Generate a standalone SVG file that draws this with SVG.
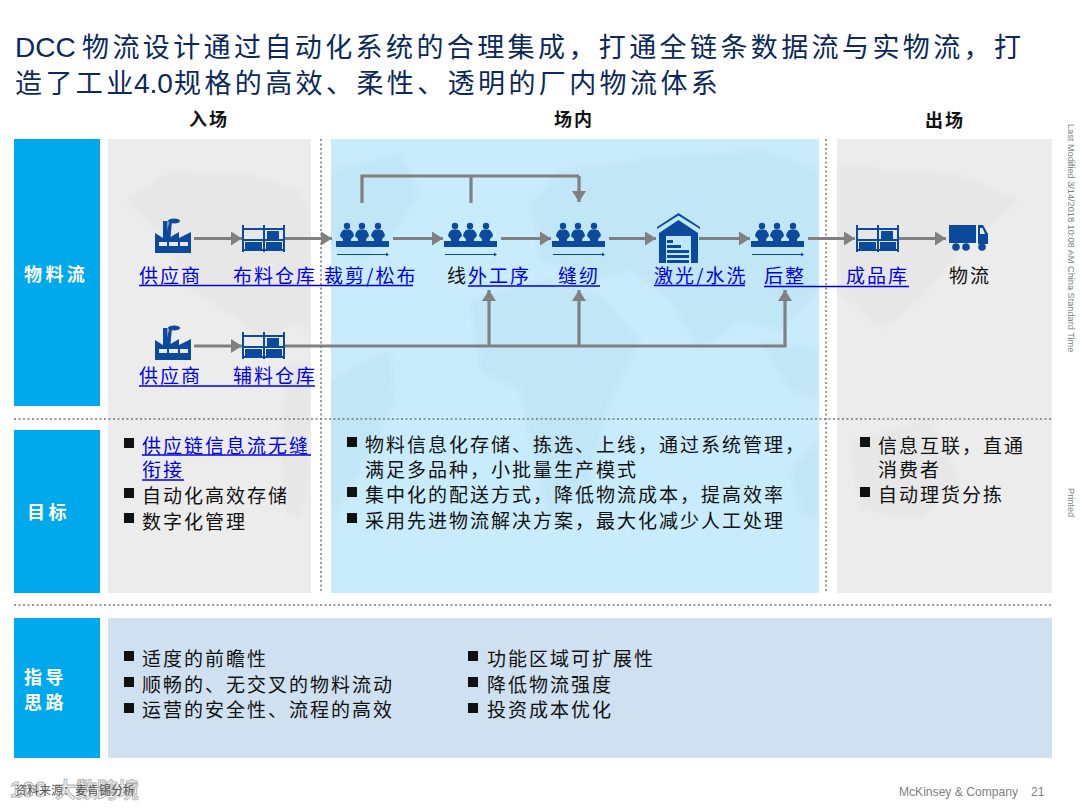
<svg xmlns="http://www.w3.org/2000/svg" width="1080" height="810" viewBox="0 0 1080 810">
<style>
text{font-family:"Liberation Sans","Noto Sans CJK SC",sans-serif}
.t{font-size:27px;fill:#0b2a5b;letter-spacing:3.4px;font-family:"Noto Sans CJK SC",sans-serif}
.tl{font-size:28px;fill:#0b2a5b}
.h{font-size:18px;font-weight:700;fill:#111;letter-spacing:2px;font-family:"Noto Sans CJK SC",sans-serif}
.lab{font-size:18px;font-weight:700;fill:#fff;letter-spacing:3.400px;font-family:"Noto Sans CJK SC",sans-serif}
.b{font-size:19px;fill:#111;letter-spacing:2px;font-family:"Noto Sans CJK SC",sans-serif}
.lk{fill:#0000e6}
.u{stroke:#0000e6;stroke-width:1.4;fill:none}
.c{stroke:#808080;stroke-width:3.2;fill:none}
.ca{stroke:#808080;stroke-width:3.2;fill:none;marker-end:url(#ah)}
.i{fill:#0b4a9c}
.side{font-size:9.2px;fill:#808080}
.blue{fill:#00a9ec}
.sep{stroke:#777;stroke-width:1.5;stroke-dasharray:2 2.5;fill:none}
.mg{fill:#e7e7e7}
.mb{fill:#c1e6f6}
.wm{font-weight:700;fill:#eee;stroke:#b0b0b0;stroke-width:.8}
</style>
<defs>
<filter id="soft" x="-5%" y="-5%" width="110%" height="110%"><feGaussianBlur stdDeviation="2.500"/></filter>
<marker id="ah" markerUnits="userSpaceOnUse" markerWidth="13" markerHeight="14" refX="11" refY="7" orient="auto"><path d="M0 0L11 7L0 14Z" fill="#808080"/></marker>
<rect id="bullet" x="0" y="0" width="10" height="10" fill="#111"/>
<g id="factory" class="i"><path d="M0 35V15L8 20V3H12.500V12L14 3H17L15.500 19L24 14V20L36 14V35ZM4 24V28H12V24ZM14 24V28H23V24ZM25 24V28H33V24Z" fill-rule="evenodd"/><ellipse cx="19" cy="3" rx="6" ry="2.500"/></g>
<g id="rack" class="i"><path d="M0 0H2V27H0ZM21 0H23V27H21ZM41 0H43V27H41ZM1 3H42V5H1ZM1 14H42V16H1ZM1 24H42V26H1Z"/><rect x="3" y="17" width="17" height="7"/><rect x="24" y="17" width="16" height="7"/><rect x="25" y="6" width="12" height="8"/></g>
<g id="workers" class="i"><rect x="0" y="18" width="53" height="6"/><path d="M1 31H50V29.500L53 31.500L50 33.500V32H1Z"/><g id="w1"><circle cx="11" cy="3" r="3.200"/><path d="M4 13Q5 7 9 6.500H13Q17 7 18 13L15 16V18H7V16Z"/></g><use href="#w1" x="15"/><use href="#w1" x="31"/></g>
<g id="house" class="i"><path d="M0 14L21.500 0L43 14V16L21.500 2.500L0 16Z"/><path d="M2 20L21.500 7L41 20V50H34V23H9V50H2Z"/><path d="M10 27H16V30H10ZM10 32H24V35H10ZM10 37H32V40H10ZM10 42H32V45H10ZM10 47H32V50H10Z"/></g>
<g id="truck" class="i"><rect x="0" y="0" width="27" height="18"/><path d="M29 0H34L39 9V19H29ZM31 3V9H36L33.500 3Z" fill-rule="evenodd"/><circle cx="7" cy="22" r="3.800"/><circle cx="17" cy="22" r="3.800"/><circle cx="33" cy="22" r="3.800"/></g>
<clipPath id="gl"><rect x="108" y="139" width="203" height="454"/></clipPath>
<clipPath id="bl"><rect x="331" y="139" width="488" height="454"/></clipPath>
<clipPath id="gr"><rect x="837" y="139" width="215" height="454"/></clipPath>
</defs>
<rect width="1080" height="810" fill="#fff"/>
<g id="title"><text class="tl" x="15" y="57">DCC</text><text class="t" x="82" y="57">物流设计通过自动化系统的合理集成，打通全链条数据流与实物流，打</text><text class="t" x="15" y="93">造了工业</text><text class="tl" x="134" y="93">4.0</text><text class="t" x="174" y="93">规格的高效、柔性、透明的厂内物流体系</text></g>
<g id="headers"><text class="h" x="189" y="126">入场</text><text class="h" x="554" y="126">场内</text><text class="h" x="925" y="127">出场</text></g>
<g id="panels"><rect x="108" y="139" width="203" height="454" fill="#ececec"/><rect x="331" y="139" width="488" height="454" fill="#c9ecfc"/><rect x="837" y="139" width="215" height="454" fill="#ececec"/><rect x="108" y="618" width="944" height="140" fill="#cfe0f0"/>
<rect class="blue" x="14" y="139" width="86" height="267"/><rect class="blue" x="14" y="430" width="86" height="163"/><rect class="blue" x="14" y="618" width="86" height="140"/></g>
<g id="map"><g clip-path="url(#gl)"><g filter="url(#soft)"><path class="mg" d="M125 200L170 172L250 175L300 190L311 210V330L290 325L265 345L240 320L190 290L160 235Z"/><path class="mg" d="M290 360L311 370V470L300 520L285 510L280 440Z"/></g></g>
<g clip-path="url(#bl)"><g filter="url(#soft)"><path class="mb" d="M331 170L400 155L420 190L390 240L360 260L331 250Z"/><path class="mb" d="M331 380L390 350L395 400L360 470L331 520Z"/><path class="mb" d="M530 205L560 170L640 160L760 150L819 170V290L780 330L740 320L700 350L670 300L630 270L590 280L540 260Z"/><path class="mb" d="M470 300L540 280L600 295L640 340L610 400L590 480L550 520L530 440L520 390L480 370Z"/><path class="mb" d="M760 340L819 350V400L790 390Z"/><path class="mb" d="M790 470L819 440V520L800 510Z"/></g></g>
<g clip-path="url(#gr)"><g filter="url(#soft)"><path class="mg" d="M837 165L960 175L1020 200L970 240L920 300L880 330L837 290Z"/><path class="mg" d="M850 440L930 420L960 480L920 520L860 510Z"/></g></g></g>
<g id="separators"><path class="sep" d="M321 139V593M826 139V593M14 419H1052M14 605H1052"/></g>
<g id="connectors">
<path class="ca" d="M194 238.500H242"/><path class="ca" d="M285 238.500H332"/><path class="ca" d="M393 238.500H443"/><path class="ca" d="M501 238.500H551"/><path class="ca" d="M609 238.500H656"/><path class="ca" d="M699 238.500H750"/><path class="ca" d="M808 238.500H855"/><path class="ca" d="M899 238.500H946"/>
<path class="c" d="M362 203V176H579"/><path class="c" d="M471 203V176"/><path class="ca" d="M579 176V202"/>
<path class="ca" d="M194 346H242"/><path class="ca" d="M285 346H785V290"/><path class="ca" d="M489 346V290"/><path class="ca" d="M579 346V290"/>
</g>
<g id="n-supplier1"><use href="#factory" x="155" y="218"/><text class="b lk" x="139" y="283">供应商</text></g>
<g id="n-fabric"><use href="#rack" x="242" y="225"/><text class="b lk" x="233" y="283">布料仓库</text></g>
<g id="n-cut"><use href="#workers" x="336" y="223"/><text class="b lk" x="324" y="283">裁剪/松布</text></g>
<g id="n-outsource"><use href="#workers" x="444" y="223"/><text class="b" x="447" y="283">线</text><text class="b lk" x="468" y="283">外工序</text></g>
<g id="n-sew"><use href="#workers" x="552" y="223"/><text class="b lk" x="558" y="283">缝纫</text></g>
<g id="n-wash"><use href="#house" x="657" y="213"/><text class="b lk" x="654" y="283">激光/水洗</text></g>
<g id="n-finish"><use href="#workers" x="751" y="223"/><text class="b lk" x="764" y="283">后整</text></g>
<g id="n-finished"><use href="#rack" x="856" y="225"/><text class="b lk" x="846" y="283">成品库</text></g>
<g id="n-logistics"><use href="#truck" x="949" y="225"/><text class="b" x="949" y="283">物流</text></g>
<g id="n-supplier2"><use href="#factory" x="155" y="325"/><text class="b lk" x="139" y="383">供应商</text></g>
<g id="n-trim"><use href="#rack" x="242" y="332"/><text class="b lk" x="233" y="383">辅料仓库</text></g>
<path class="u" d="M139 285.500H413M468 286H600M654 285.500H745M764 286.500H909M139 386H315"/>
<g id="labels"><text class="lab" x="24" y="281">物料流</text><text class="lab" x="27" y="519">目标</text><text class="lab" x="24" y="684">指导</text><text class="lab" x="24" y="709">思路</text></g>
<g id="goals1"><use href="#bullet" x="124" y="438"/><text class="b lk" x="142" y="453">供应链信息流无缝</text><path class="u" d="M142 455H311M142 480H184"/><text class="b lk" x="142" y="477">衔接</text><use href="#bullet" x="124" y="488"/><text class="b" x="142" y="503">自动化高效存储</text><use href="#bullet" x="124" y="513"/><text class="b" x="142" y="529">数字化管理</text></g>
<g id="goals2"><use href="#bullet" x="347" y="437"/><text class="b" x="365" y="452">物料信息化存储、拣选、上线，通过系统管理，</text><text class="b" x="365" y="477">满足多品种，小批量生产模式</text><use href="#bullet" x="347" y="487"/><text class="b" x="365" y="502">集中化的配送方式，降低物流成本，提高效率</text><use href="#bullet" x="347" y="513"/><text class="b" x="365" y="528">采用先进物流解决方案，最大化减少人工处理</text></g>
<g id="goals3"><use href="#bullet" x="860" y="437"/><text class="b" x="878" y="453">信息互联，直通</text><text class="b" x="878" y="477">消费者</text><use href="#bullet" x="860" y="487"/><text class="b" x="878" y="502">自动理货分拣</text></g>
<g id="guide"><use href="#bullet" x="124" y="651"/><text class="b" x="142" y="666">适度的前瞻性</text><use href="#bullet" x="124" y="677"/><text class="b" x="142" y="692">顺畅的、无交叉的物料流动</text><use href="#bullet" x="124" y="703"/><text class="b" x="142" y="717">运营的安全性、流程的高效</text>
<use href="#bullet" x="468" y="651"/><text class="b" x="487" y="666">功能区域可扩展性</text><use href="#bullet" x="468" y="677"/><text class="b" x="487" y="692">降低物流强度</text><use href="#bullet" x="468" y="703"/><text class="b" x="487" y="717">投资成本优化</text></g>
<g id="side"><text class="side" transform="translate(1068 124) rotate(90)">Last Modified 3/14/2018 10:08 AM China Standard Time</text><text class="side" transform="translate(1068 488) rotate(90)">Printed</text></g>
<g id="footer"><text x="899" y="796" font-size="12.100" fill="#808080">McKinsey &amp; Company</text><text x="1031" y="796" font-size="12.100" fill="#808080">21</text>
<text class="wm" x="10" y="797" font-size="22">100</text><text class="wm" x="55" y="797" font-size="21" style="font-family:'Noto Sans CJK SC',sans-serif">大数跨境</text><text x="15" y="795" font-size="12" fill="#555" style="font-family:'Noto Sans CJK SC',sans-serif">资料来源：麦肯锡分析</text></g>
</svg>
